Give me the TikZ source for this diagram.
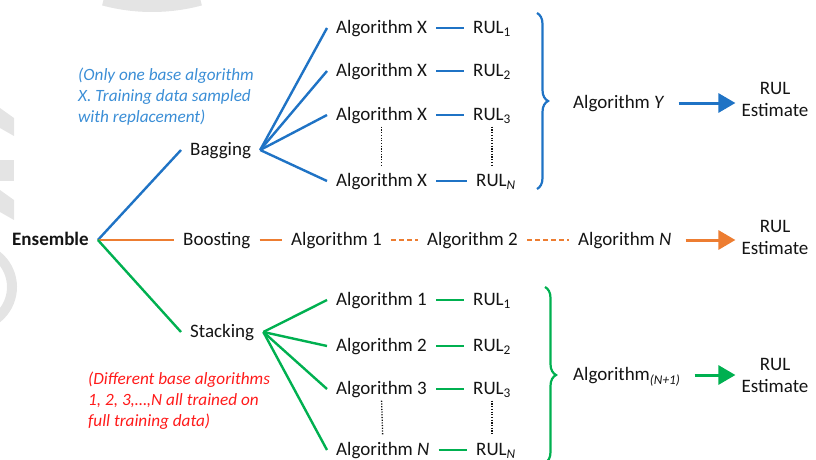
\documentclass[tikz,border=0pt]{standalone}
\usepackage{fontspec}
\setmainfont{Carlito}
\usetikzlibrary{decorations.pathreplacing,arrows.meta}
\definecolor{cblue}{HTML}{1F73C5}
\definecolor{corange}{HTML}{ED7D31}
\definecolor{cgreen}{HTML}{00B050}
\definecolor{notebl}{HTML}{3B8ED6}
\definecolor{notered}{HTML}{FF1A1A}
\definecolor{txt}{HTML}{141414}
\definecolor{wm}{HTML}{E4E4E4}
\begin{document}
\begin{tikzpicture}[x=1pt,y=-1pt,
  font=\fontsize{19}{22}\selectfont,
  lbl/.style={anchor=west, inner xsep=9pt, inner ysep=2pt, text height=13pt, text depth=2pt, text=txt},
  est/.style={align=center, text=txt, inner xsep=3pt, inner ysep=0pt},
  note/.style={anchor=north west, align=left, font=\fontsize{17.2}{20.8}\selectfont\itshape, inner sep=0pt},
  conn/.style={line width=2.4pt},
  dsh/.style={line width=2.4pt, dash pattern=on 5pt off 3pt},
  vdots/.style={line width=1.3pt, dash pattern=on 1.2pt off 1.5pt, txt, shorten <=2pt, shorten >=5pt},
  arr/.style={line width=3pt, -{Triangle[length=17pt,width=19pt]}, shorten <=5pt, shorten >=3pt},
  brc/.style={line width=2.2pt, decorate, decoration={brace, amplitude=11pt}},
  wmark/.style={fill=wm, draw=none}]
\useasboundingbox (0,0) rectangle (816,460);
% faint watermark
\draw[wm, line width=12pt] (152,-181) ++(75:187) arc[start angle=75, end angle=105, radius=187];
\fill[wmark] (0,108) -- (14,118) -- (14,136) -- (0,128) -- cycle;
\fill[wmark] (0,160) -- (14,160) -- (14,181) -- (0,181) -- cycle;
\fill[wmark] (0,190) -- (14,200) -- (14,220) -- (0,212) -- cycle;
\draw[wm, line width=10pt] (-28,287) ++(-68:40) arc[start angle=-68, end angle=68, radius=40];

% left side
\node[lbl] (ens) at (3,240) {\textbf{Ensemble}};
\node[lbl] (bag) at (181,150) {Bagging};
\node[lbl] (boo) at (174,240) {Boosting};
\node[lbl] (sta) at (181,332) {Stacking};

\node[note, text=notebl] (nb) at (78,68) {(Only one base algorithm\\X. Training data sampled\\with replacement)};
\node[note, text=notered] (nr) at (88,372) {(Different base algorithms\\1, 2, 3,…,N all trained on\\full training data)};

% bagging
\node[lbl] (ax1) at (327,28) {Algorithm X};
\node[lbl] (ax2) at (327,71) {Algorithm X};
\node[lbl] (ax3) at (327,115) {Algorithm X};
\node[lbl] (ax4) at (327,181) {Algorithm X};
\node[lbl] (rb1) at (464,28) {RUL\textsubscript{1}};
\node[lbl] (rb2) at (464,71) {RUL\textsubscript{2}};
\node[lbl] (rb3) at (464,115) {RUL\textsubscript{3}};
\node[lbl] (rb4) at (467,181) {RUL\textsubscript{\textit{N}}};
\node[lbl] (algY) at (564,103) {Algorithm \textit{Y}};
\node[est] (estB) at (775,99) {RUL\\Estimate};
\coordinate (bbt) at (537,13);
\coordinate (bbb) at (537,189);

% boosting
\node[lbl] (b1) at (282,240) {Algorithm 1};
\node[lbl] (b2) at (418,240) {Algorithm 2};
\node[lbl] (bN) at (569,240) {Algorithm \textit{N}};
\node[est] (estO) at (775,237) {RUL\\Estimate};

% stacking
\node[lbl] (as1) at (327,300) {Algorithm 1};
\node[lbl] (as2) at (327,346) {Algorithm 2};
\node[lbl] (as3) at (327,389) {Algorithm 3};
\node[lbl] (as4) at (327,450) {Algorithm \textit{N}};
\node[lbl] (rs1) at (464,300) {RUL\textsubscript{1}};
\node[lbl] (rs2) at (464,346) {RUL\textsubscript{2}};
\node[lbl] (rs3) at (464,389) {RUL\textsubscript{3}};
\node[lbl] (rs4) at (467,450) {RUL\textsubscript{\textit{N}}};
\node[lbl] (algS) at (564,375) {Algorithm\textsubscript{\textit{(N+1)}}};
\node[est] (estG) at (775,375) {RUL\\Estimate};
\coordinate (gbt) at (545,287);
\coordinate (gbb) at (545,463);

% blue connectors
\draw[conn, cblue] (ens.east) -- (bag.west);
\foreach \n in {ax1,ax2,ax3,ax4} \draw[conn, cblue] (bag.east) -- (\n.west);
\foreach \i in {1,2,3,4} \draw[conn, cblue] (ax\i.east) -- (rb\i.west);
\draw[vdots] (ax3.south) -- (ax4.north);
\draw[vdots] (rb3.south) -- (rb3.south |- ax4.north);
\draw[brc, cblue] (bbt) -- (bbb);
\draw[arr, cblue] (algY.east) -- (algY.east -| estB.west);

% orange connectors
\draw[conn, corange] (ens.east) -- (boo.west);
\draw[conn, corange] (boo.east) -- (b1.west);
\draw[dsh, corange] (b1.east) -- (b2.west);
\draw[dsh, corange] (b2.east) -- (bN.west);
\draw[arr, corange] (bN.east) -- (bN.east -| estO.west);

% green connectors
\draw[conn, cgreen] (ens.east) -- (sta.west);
\foreach \n in {as1,as2,as3,as4} \draw[conn, cgreen] (sta.east) -- (\n.west);
\foreach \i in {1,2,3,4} \draw[conn, cgreen] (as\i.east) -- (rs\i.west);
\draw[vdots] (as3.south) -- (as4.north);
\draw[vdots] (rs3.south) -- (rs3.south |- as4.north);
\draw[brc, cgreen] (gbt) -- (gbb);
\draw[arr, cgreen] (algS.east) -- (algS.east -| estG.west);
\end{tikzpicture}
\end{document}
